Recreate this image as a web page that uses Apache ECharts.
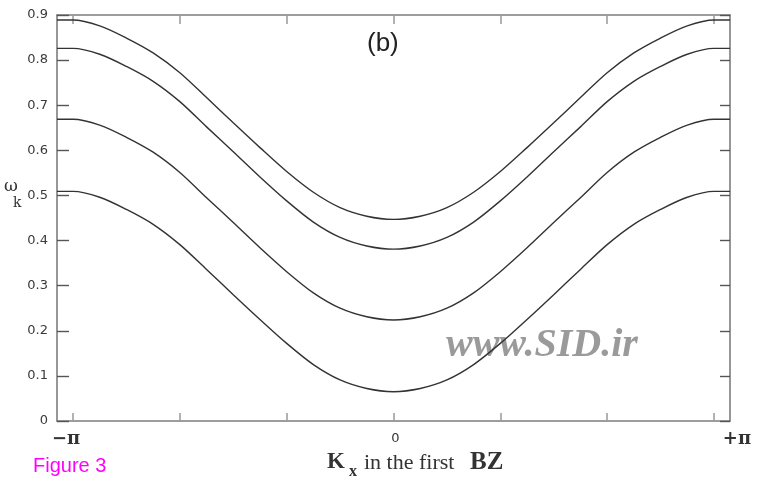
<!DOCTYPE html>
<html>
<head>
<meta charset="utf-8">
<script src="https://cdn.jsdelivr.net/npm/echarts@6/dist/echarts.min.js"></script>
<style>
  html, body { margin: 0; padding: 0; background: #fff; }
  #chart { width: 757px; height: 483px; }
</style>
</head>
<body>
<div id="chart"></div>
<script>
// k in units of pi/3 (first Brillouin zone: -3 .. 3 = -pi .. +pi)
const kPoints = [-3.15, -3, -2.75, -2.5, -2.25, -2, -1.75, -1.5, -1.25, -1, -0.75, -0.5, -0.25, 0,
                 0.25, 0.5, 0.75, 1, 1.25, 1.5, 1.75, 2, 2.25, 2.5, 2.75, 3, 3.15];
const band1 = [0.889, 0.889, 0.876, 0.849, 0.816, 0.772, 0.717, 0.661, 0.606, 0.553, 0.507, 0.473, 0.454, 0.447,
               0.454, 0.473, 0.507, 0.553, 0.606, 0.661, 0.717, 0.772, 0.816, 0.849, 0.876, 0.889, 0.889];
const band2 = [0.826, 0.826, 0.813, 0.786, 0.753, 0.708, 0.652, 0.597, 0.541, 0.488, 0.441, 0.407, 0.388, 0.381,
               0.388, 0.407, 0.441, 0.488, 0.541, 0.597, 0.652, 0.708, 0.753, 0.786, 0.813, 0.826, 0.826];
const band3 = [0.669, 0.669, 0.656, 0.629, 0.596, 0.551, 0.495, 0.440, 0.384, 0.331, 0.284, 0.250, 0.231, 0.224,
               0.231, 0.250, 0.284, 0.331, 0.384, 0.440, 0.495, 0.551, 0.596, 0.629, 0.656, 0.669, 0.669];
const band4 = [0.509, 0.509, 0.496, 0.469, 0.436, 0.391, 0.336, 0.280, 0.225, 0.172, 0.125, 0.091, 0.072, 0.065,
               0.072, 0.091, 0.125, 0.172, 0.225, 0.280, 0.336, 0.391, 0.436, 0.469, 0.496, 0.509, 0.509];
const xTickValues = [-3, -2, -1, 0, 1, 2, 3];
const xLabelValues = [-3, 0, 3];
const xLabelTexts = { '-3': '−π', '0': '0', '3': '+π' };

const bands = [band1, band2, band3, band4];
const axisGray = '#7d7d7d';

const chart = echarts.init(document.getElementById('chart'), null, { renderer: 'canvas' });

const option = {
  backgroundColor: '#ffffff',
  animation: false,
  grid: { left: 57, right: 27, top: 15, bottom: 62, containLabel: false },
  xAxis: [
    {
      type: 'value', position: 'bottom', min: -3.15, max: 3.15,
      axisLine: { show: true, onZero: false, lineStyle: { color: axisGray, width: 1.6 } },
      axisTick: { show: true, inside: true, length: 8, customValues: xTickValues, lineStyle: { color: '#999', width: 1.5 } },
      splitLine: { show: false },
      axisLabel: {
        show: true, customValues: xLabelValues, margin: 9,
        formatter: function (v) {
          const t = xLabelTexts[String(Math.round(v))];
          if (v < 0) return '{l|' + t + '}';
          if (v > 0) return '{r|' + t + '}';
          return '{z|' + t + '}';
        },
        rich: {
          l: { fontFamily: 'DejaVu Serif', fontSize: 18, fontWeight: 'bold', color: '#333', padding: [0, 14, 0, 0] },
          r: { fontFamily: 'DejaVu Serif', fontSize: 18, fontWeight: 'bold', color: '#333', padding: [0, 0, 0, 46] },
          z: { fontFamily: 'DejaVu Sans', fontSize: 13, color: '#333', padding: [2, 0, 0, 4] }
        }
      }
    },
    {
      type: 'value', position: 'top', min: -3.15, max: 3.15,
      axisLine: { show: true, onZero: false, lineStyle: { color: axisGray, width: 1.6 } },
      axisTick: { show: true, inside: true, length: 9, customValues: xTickValues, lineStyle: { color: '#999', width: 1.5 } },
      axisLabel: { show: false },
      splitLine: { show: false }
    }
  ],
  yAxis: [
    {
      type: 'value', position: 'left', min: 0, max: 0.9, interval: 0.1,
      axisLine: { show: true, onZero: false, lineStyle: { color: axisGray, width: 1.6 } },
      axisTick: { show: true, inside: true, length: 12, lineStyle: { color: '#555', width: 1.4 } },
      splitLine: { show: false },
      axisLabel: {
        margin: 9, color: '#3a3a3a', fontFamily: 'DejaVu Sans', fontSize: 13,
        formatter: function (v) { return v === 0 ? '0' : v.toFixed(1); }
      }
    },
    {
      type: 'value', position: 'right', min: 0, max: 0.9, interval: 0.1,
      axisLine: { show: true, onZero: false, lineStyle: { color: axisGray, width: 1.6 } },
      axisTick: { show: true, inside: true, length: 10, lineStyle: { color: '#555', width: 1.4 } },
      splitLine: { show: false },
      axisLabel: { show: false }
    }
  ],
  series: bands.map(function (b, i) {
    return {
      type: 'line', name: 'band' + (i + 1), xAxisIndex: 0, yAxisIndex: 0,
      data: kPoints.map(function (k, j) { return [k, b[j]]; }),
      smooth: 0.3, showSymbol: false,
      lineStyle: { color: '#333333', width: 1.4 }
    };
  }),
  graphic: [
    { type: 'text', left: 367, top: 31, style: { text: '(b)', font: '26px "Liberation Sans", Arial, sans-serif', fill: '#222' } },
    { type: 'text', left: 446, top: 326, style: { text: 'www.SID.ir', font: 'italic bold 40px "Liberation Serif", "DejaVu Serif", serif', fill: '#9a9a9a' } },
    { type: 'text', left: 4, top: 178, style: { text: 'ω', font: '17px "DejaVu Serif", serif', fill: '#333' } },
    { type: 'text', left: 13, top: 196, style: { text: 'k', font: '14px "DejaVu Serif", serif', fill: '#333' } },
    { type: 'text', left: 33, top: 456, style: { text: 'Figure 3', font: '20px "Liberation Sans", Arial, sans-serif', fill: '#ff00ff' } },
    { type: 'text', left: 327, top: 451, style: { text: 'K', font: 'bold 23px "Liberation Serif", serif', fill: '#333' } },
    { type: 'text', left: 349, top: 464, style: { text: 'x', font: 'bold 16px "Liberation Serif", serif', fill: '#333' } },
    { type: 'text', left: 364, top: 452, style: { text: 'in the first', font: '22px "Liberation Serif", serif', fill: '#333' } },
    { type: 'text', left: 470, top: 450, style: { text: 'BZ', font: 'bold 25px "Liberation Serif", serif', fill: '#333' } }
  ]
};

chart.setOption(option);
</script>
</body>
</html>
